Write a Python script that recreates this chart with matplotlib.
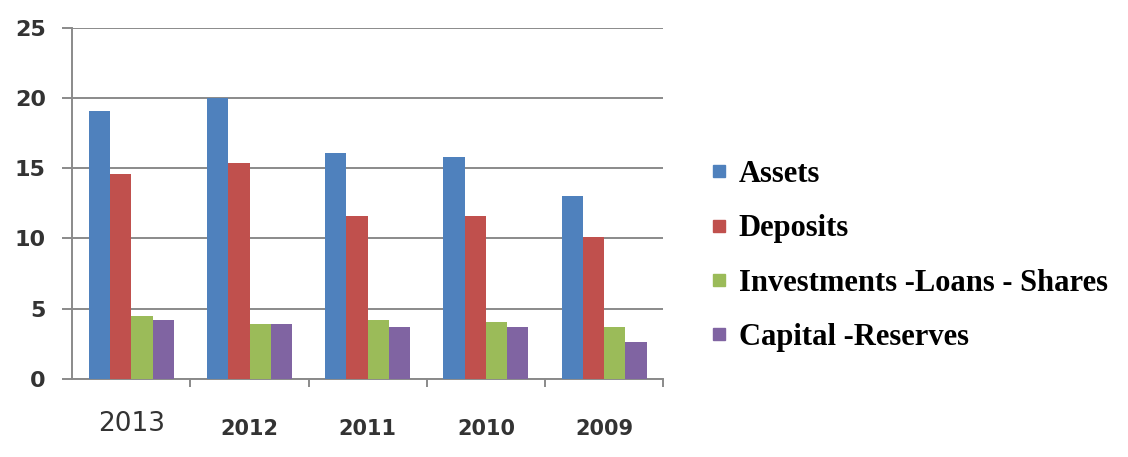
import numpy as np
import matplotlib.pyplot as plt
import matplotlib.transforms as mtransforms
from matplotlib.lines import Line2D

# Yearly figures per category
years = ["2013", "2012", "2011", "2010", "2009"]
assets = [19.1, 20.0, 16.1, 15.8, 13.0]
deposits = [14.6, 15.4, 11.6, 11.6, 10.1]
investments = [4.5, 3.9, 4.2, 4.05, 3.7]
capital = [4.2, 3.9, 3.7, 3.7, 2.6]

series = [assets, deposits, investments, capital]
labels = ["Assets", "Deposits", "Investments -Loans - Shares", "Capital -Reserves"]
colors = ["#4F81BD", "#C0504D", "#9BBB59", "#8064A2"]

fig = plt.figure(figsize=(11.28, 4.57), dpi=100)
ax = fig.add_axes([0.064, 0.171, 0.524, 0.768])

x = np.arange(len(years))
w = 0.18
for i, vals in enumerate(series):
    ax.bar(x + (i - 1.5) * w, vals, width=w, color=colors[i], zorder=3)

ax.set_xlim(-0.5, len(years) - 0.5)
ax.set_ylim(0, 25)
ax.set_yticks([0, 5, 10, 15, 20, 25])
ax.yaxis.grid(True, color="#8a8a8a", linewidth=1.4, zorder=0)

for s in ["top", "right"]:
    ax.spines[s].set_visible(False)
for s in ["left", "bottom"]:
    ax.spines[s].set_color("#8a8a8a")
    ax.spines[s].set_linewidth(1.4)

ax.tick_params(axis="y", length=7, width=1.4, color="#8a8a8a", pad=12,
               labelsize=16, labelcolor="#333333")
for t in ax.get_yticklabels():
    t.set_fontweight("bold")

# tick marks between categories, year labels placed under each group
ax.set_xticks(x)
ax.set_xticklabels([])
ax.tick_params(axis="x", which="major", length=0)
ax.set_xticks(np.arange(0.5, len(years), 1.0), minor=True)
ax.tick_params(axis="x", which="minor", length=6, width=1.4, color="#8a8a8a")

trans = mtransforms.blended_transform_factory(ax.transData, ax.transAxes)
for i, yr in enumerate(years):
    if i == 0:
        ax.text(x[i], -0.13, yr, transform=trans, ha="center", va="center",
                fontsize=19, color="#333333")
    else:
        ax.text(x[i], -0.142, yr, transform=trans, ha="center", va="center",
                fontsize=15, fontweight="bold", color="#333333")

handles = [Line2D([0], [0], marker="s", linestyle="none", markersize=8.5,
                  markerfacecolor=c, markeredgecolor=c) for c in colors]
fig.legend(handles, labels, loc="center left", bbox_to_anchor=(0.606, 0.44),
           frameon=False, handlelength=0.5, handletextpad=0.4, labelspacing=0.83,
           prop={"family": "Liberation Serif", "weight": "bold", "size": 22})

fig.savefig("out.png", dpi=100)
